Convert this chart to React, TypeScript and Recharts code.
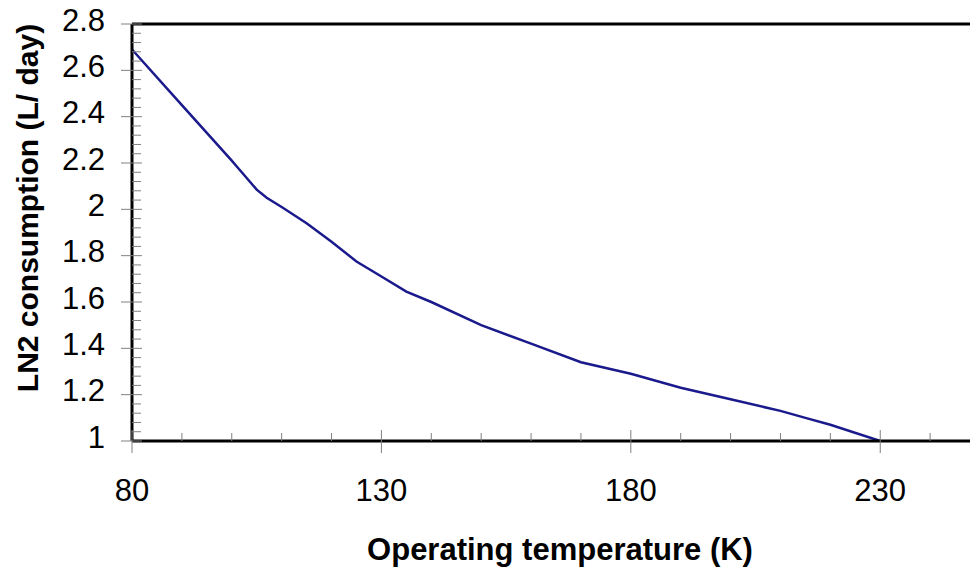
import React from 'react';
import { LineChart, Line, XAxis, YAxis, ReferenceLine } from 'recharts';

// Operating temperature (K)
const temperatures = [80, 90, 100, 101, 102, 105, 107, 110, 115, 120, 125, 130, 135, 140, 150, 160, 170, 180, 190, 200, 210, 215, 220, 230];
// LN2 consumption (L/day)
const consumption = [2.69, 2.45, 2.21, 2.185, 2.16, 2.085, 2.05, 2.01, 1.94, 1.86, 1.775, 1.71, 1.645, 1.6, 1.5, 1.42, 1.34, 1.29, 1.23, 1.18, 1.13, 1.1, 1.07, 1.0];

const xMajorTicks = [80, 130, 180, 230];
const xMinorTicks = [90, 100, 110, 120, 140, 150, 160, 170, 190, 200, 210, 220, 240, 250];
const yMajorTicks = [1, 1.2, 1.4, 1.6, 1.8, 2, 2.2, 2.4, 2.6, 2.8];
const yMinorStep = 0.04;

const xTitle = 'Operating temperature (K)';
const yTitle = 'LN2 consumption (L/ day)';

const data = temperatures.map((t, i) => ({ t, v: consumption[i] }));
const xTicks = [...xMajorTicks, ...xMinorTicks].sort((a, b) => a - b);
const yTicks: number[] = [];
yMajorTicks.forEach((m, i) => {
  yTicks.push(m);
  if (i < yMajorTicks.length - 1) {
    for (let k = 1; k < 5; k++) yTicks.push(Math.round((m + k * yMinorStep) * 1000) / 1000);
  }
});

const FONT = '"Liberation Sans", Arial, sans-serif';
const TICK_GRAY = '#808080';

const isYMajor = (v: number) => Math.abs(v * 5 - Math.round(v * 5)) < 1e-6;

const XTick = (props: any) => {
  const { x, y, payload } = props;
  const v = payload.value;
  if (xMajorTicks.includes(v)) {
    return (
      <g>
        <line x1={x} x2={x} y1={y - 11} y2={y + 12} stroke={TICK_GRAY} strokeWidth={1} />
        <text x={x} y={y + 49} textAnchor="middle" dominantBaseline="central" fontFamily={FONT} fontSize={31} fill="#000">
          {v}
        </text>
      </g>
    );
  }
  return <line x1={x} x2={x} y1={y - 8} y2={y} stroke={TICK_GRAY} strokeWidth={1} />;
};

const YTick = (props: any) => {
  const { x, y, payload } = props;
  const v = payload.value;
  if (isYMajor(v)) {
    return (
      <g>
        <line x1={x - 11} x2={x + 10} y1={y} y2={y} stroke={TICK_GRAY} strokeWidth={1} />
        <text x={x - 27} y={y - 4} textAnchor="end" dominantBaseline="central" fontFamily={FONT} fontSize={31} fill="#000">
          {String(Number(v.toFixed(1)))}
        </text>
      </g>
    );
  }
  return <line x1={x} x2={x + 9} y1={y} y2={y} stroke={TICK_GRAY} strokeWidth={1} />;
};

const XTitle = (props: any) => {
  const vb = props.viewBox || {};
  return (
    <text x={vb.x + vb.width / 2 + 4} y={560} textAnchor="middle" fontFamily={FONT} fontWeight="bold" fontSize={31} fill="#000">
      {xTitle}
    </text>
  );
};

const YTitle = () => {
  const cx = 27;
  const cy = 208;
  return (
    <text x={cx} y={cy} transform={`rotate(-90, ${cx}, ${cy})`} textAnchor="middle" dominantBaseline="central" fontFamily={FONT} fontWeight="bold" fontSize={30} fill="#000">
      {yTitle}
    </text>
  );
};

export default function App() {
  return (
    <div style={{ position: 'fixed', left: 0, top: 0, width: 970, height: 568, overflow: 'hidden', background: '#fff' }}>
      <LineChart width={980} height={568} data={data} margin={{ top: 24, right: 0, bottom: 0, left: 0 }}>
        <XAxis
          dataKey="t"
          type="number"
          domain={[80, 250]}
          ticks={xTicks}
          interval={0}
          tickSize={0}
          tickMargin={0}
          tickLine={false}
          tick={XTick}
          height={127}
          axisLine={{ stroke: '#000', strokeWidth: 3 }}
          allowDataOverflow
          label={XTitle}
        />
        <YAxis
          type="number"
          domain={[1, 2.8]}
          ticks={yTicks}
          interval={0}
          tickSize={0}
          tickMargin={0}
          tickLine={false}
          tick={YTick}
          width={132}
          axisLine={{ stroke: '#000', strokeWidth: 3 }}
          allowDataOverflow
          label={YTitle}
        />
        <ReferenceLine y={2.8} stroke="#000" strokeWidth={3} ifOverflow="visible" />
        <Line type="linear" dataKey="v" stroke="#1a1a8c" strokeWidth={2.5} dot={false} isAnimationActive={false} />
      </LineChart>
    </div>
  );
}
